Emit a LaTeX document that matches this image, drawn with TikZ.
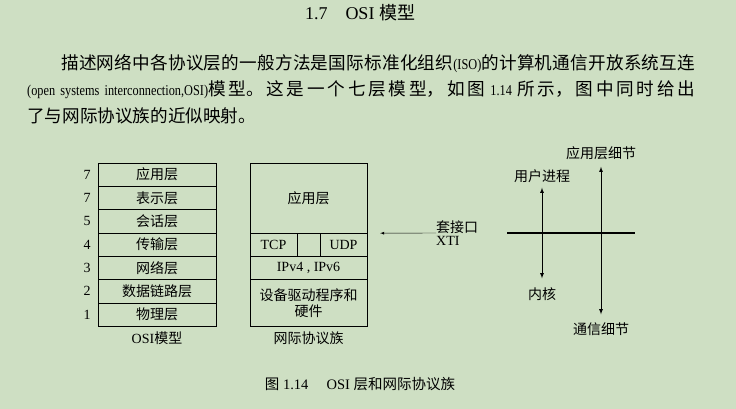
\documentclass[tikz,border=0pt]{standalone}
\usepackage{fontspec}
\setmainfont{Liberation Serif}
\newfontfamily\cjk{Noto Sans CJK SC}
\newfontfamily\latn{Liberation Serif}[FakeStretch=0.82]
\usetikzlibrary{arrows,positioning}
\XeTeXlinebreaklocale "zh"
\XeTeXlinebreakskip=0pt plus 2pt
\newcommand{\zh}[1]{{\cjk #1}}
\newcommand{\lat}[1]{{\latn\fontsize{15}{16}\selectfont #1}}
\definecolor{PaperGreen}{HTML}{CEDFC3}
\tikzset{
    layer/.style = {draw, rectangle, inner sep=0pt,
        minimum height=23.3pt,
        minimum width=118pt,
        font=\cjk\fontsize{14}{16}\selectfont},
    latin/.style = {font=\fontsize{14}{16}\selectfont},
    capt/.style = {inner sep=0pt, font=\fontsize{14}{16}\selectfont},
    para/.style = {anchor=north west, inner sep=0pt, text width=668pt, align=justify,
        font=\fontsize{17.6}{26.5}\selectfont},
    updown/.style = {draw, latex-latex, line width=0.8pt}
}

\begin{document}
\begin{tikzpicture}[x=1pt,y=-1pt]
        \fill[PaperGreen] (0,0) rectangle (736,409);
        % heading and text
        \node[inner sep=0pt, font=\fontsize{18}{20}\selectfont] (title) at (360,13) {1.7\quad OSI \zh{模型}};
        \node[para] (text) at (27,54) {\hspace*{34pt}\zh{描述网络中各协议层的一般方法是国际标准化组织}\lat{(ISO)}\zh{的计算机通信开放系统互连}\linebreak
            \lat{(open systems interconnection,OSI)}\zh{模型。这是一个七层模型，如图}\lat{ 1.14 }\zh{所示，图中同时给出}\linebreak
            \zh{了与网际协议族的近似映射。}};
        % OSI model
        \foreach \n/\lbl/\txt [count=\k] in {7/7/应用层,6/7/表示层,5/5/会话层,4/4/传输层,3/3/网络层,2/2/数据链路层,1/1/物理层}{
            \node[layer] (osi\n) at (157,{151.35+23.3*\k}) {\txt};
            \node[latin] (num\n) at (87,{151.35+23.3*\k}) {\lbl};
        }
        \node[capt] (osicap) at (157,338) {OSI\zh{模型}};
        % internet protocol suite
        \node[layer, minimum width=117pt, minimum height=70pt] (app) at (308.5,198) {应用层};
        \node[layer, latin, minimum width=47pt] (tcp) at (273.5,244.65) {TCP};
        \node[layer, minimum width=23pt] (gap) at (308.5,244.65) {};
        \node[layer, latin, minimum width=47pt] (udp) at (343.5,244.65) {UDP};
        \node[layer, latin, minimum width=117pt] (ip) at (308.5,267.95) {IPv4 , IPv6};
        \node[layer, minimum width=117pt, minimum height=46.6pt, align=center] (dev) at (308.5,302.9) {设备驱动程序和\\硬件};
        \node[capt] (ipcap) at (308.5,338) {\zh{网际协议族}};
        % socket
        \node[capt, anchor=west, align=left, font=\fontsize{14}{13}\selectfont] (sock) at (436,233) {\zh{套接口}\\XTI};
        \draw[-latex] (sock.west) -- ([xshift=13pt]app.south east);
        % user / kernel
        \coordinate (axl) at (507,233);
        \coordinate (axr) at (635,233);
        \draw[line width=1.3pt] (axl) -- (axr);
        \node[capt] (user) at (542,176) {\zh{用户进程}};
        \node[capt] (kern) at (542,294) {\zh{内核}};
        \draw[updown, shorten <=5pt, shorten >=9pt] (user) -- (kern);
        \node[capt] (appd) at (601,153) {\zh{应用层细节}};
        \node[capt] (comm) at (601,329) {\zh{通信细节}};
        \draw[updown, shorten <=7pt, shorten >=8pt] (appd) -- (comm);
        \node[capt, font=\fontsize{14.5}{16}\selectfont] (fig) at (360,384) {\zh{图} 1.14\quad\ OSI \zh{层和网际协议族}};
\end{tikzpicture}
\end{document}
